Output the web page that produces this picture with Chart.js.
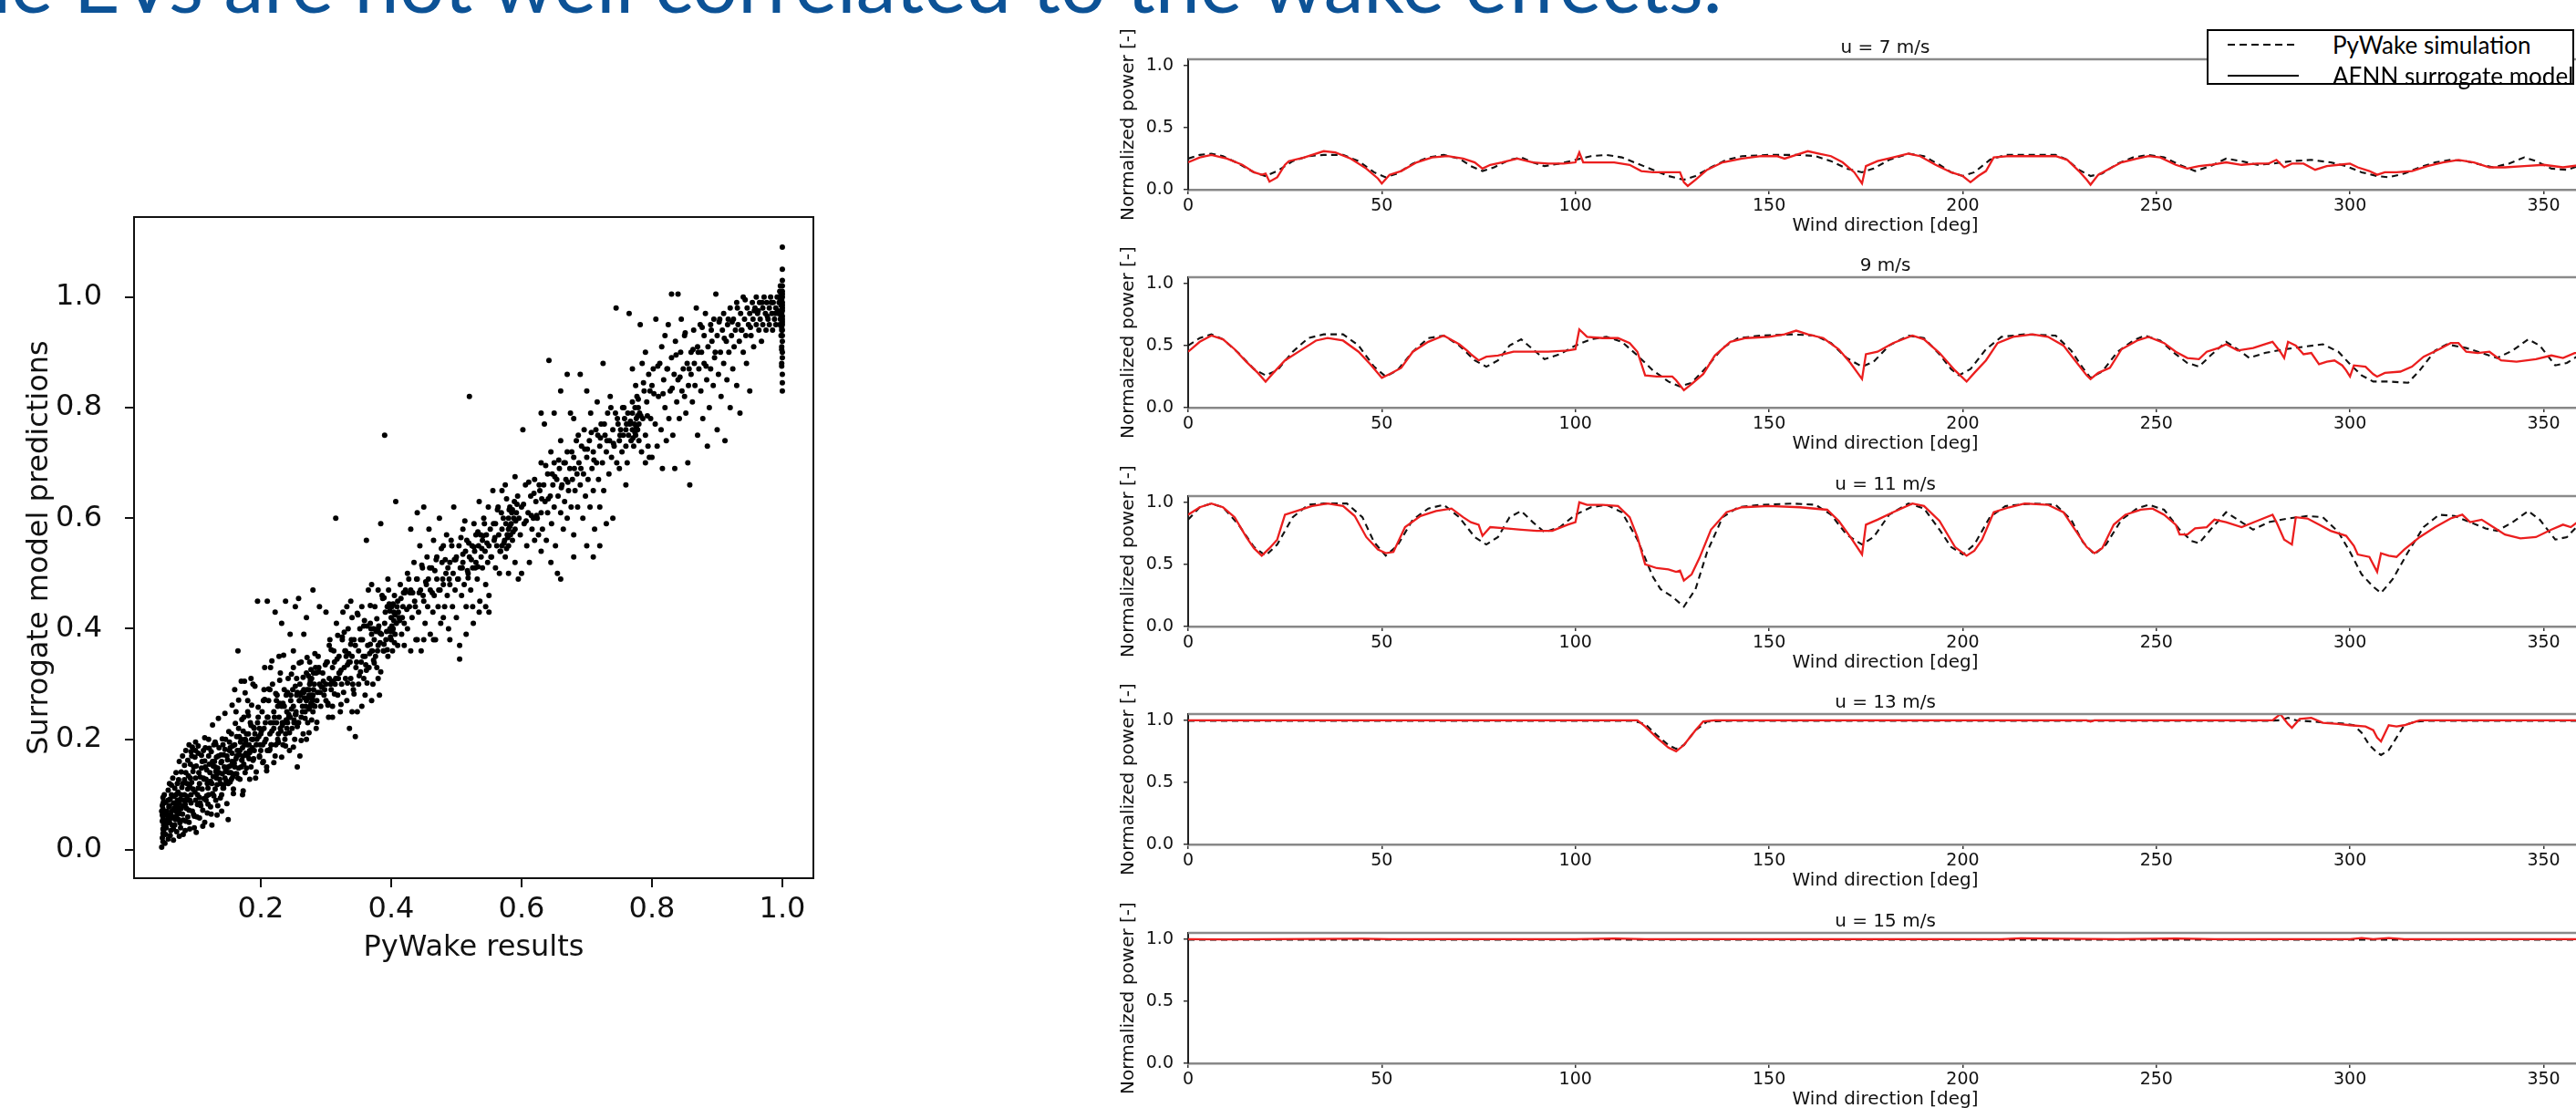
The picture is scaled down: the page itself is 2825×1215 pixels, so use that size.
<!DOCTYPE html>
<html>
<head>
<meta charset="utf-8">
<script src="https://cdn.jsdelivr.net/npm/chart.js@4.4.1/dist/chart.umd.min.js"></script>
<style>
  html, body { margin: 0; padding: 0; background: #fff; width: 2825px; height: 1215px; overflow: hidden; position: relative; }
  canvas { position: absolute; }
  #heading { position: absolute; left: -69px; top: -64px; font-family: Lato, sans-serif; font-size: 88px; line-height: 88px; color: #0c5296; white-space: nowrap; }
  #legend { position: absolute; left: 2420px; top: 32px; width: 403px; height: 61px; box-sizing: border-box; border: 2px solid #000; background: #fff; font-family: Lato, sans-serif; font-size: 26px; color: #000; }
  #legend .row { position: absolute; left: 0; height: 30px; line-height: 30px; }
  #legend svg { position: absolute; left: 21px; top: 0; }
  #legend span { position: absolute; left: 136px; top: 0; white-space: nowrap; }
</style>
</head>
<body>
<div id="heading">the EVs are not well correlated to the wake effects.</div>

<canvas id="scatter" width="960" height="900" style="left:0px;top:180px"></canvas>
<canvas id="u7" width="1700" height="250" style="left:1150px;top:15px"></canvas>
<canvas id="u9" width="1700" height="250" style="left:1150px;top:254px"></canvas>
<canvas id="u11" width="1700" height="250" style="left:1150px;top:494px"></canvas>
<canvas id="u13" width="1700" height="250" style="left:1150px;top:733px"></canvas>
<canvas id="u15" width="1700" height="250" style="left:1150px;top:973px"></canvas>

<div id="legend">
  <div class="row" style="top:0px">
    <svg width="80" height="30"><line x1="0" y1="15" x2="78" y2="15" stroke="#000" stroke-width="2" stroke-dasharray="8,5"/></svg>
    <span>PyWake simulation</span>
  </div>
  <div class="row" style="top:34px">
    <svg width="80" height="30"><line x1="0" y1="15" x2="78" y2="15" stroke="#000" stroke-width="2"/></svg>
    <span>AENN surrogate model</span>
  </div>
</div>

<script>
// left panel: PyWake result vs surrogate prediction, [pywake, surrogate]
const scatterPairs = [
  [0.048,0.005],[0.049,0.022],[0.05,0.03],[0.05,0.038],[0.051,0.045],[0.049,0.052],[0.05,0.06],[0.052,0.067],[0.05,0.074],[0.049,0.08],
  [0.051,0.088],[0.05,0.095],[0.052,0.1],[0.05,0.055],[0.048,0.07],[0.05,0.015],[0.051,0.035],[0.049,0.063],[0.05,0.084],[0.052,0.05],
  [0.055,0.04],[0.056,0.07],[0.058,0.09],[0.06,0.05],[0.06,0.08],[0.062,0.035],[0.063,0.1],[0.065,0.06],[0.066,0.085],[0.068,0.045],
  [0.07,0.07],[0.07,0.1],[0.072,0.12],[0.074,0.055],[0.075,0.085],[0.077,0.04],[0.078,0.1],[0.08,0.065],[0.08,0.12],[0.082,0.09],
  [0.084,0.035],[0.085,0.14],[0.086,0.075],[0.088,0.11],[0.09,0.05],[0.09,0.19],[0.091,0.09],[0.092,0.13],[0.094,0.17],[0.095,0.07],
  [0.096,0.11],[0.097,0.15],[0.098,0.04],[0.1,0.09],[0.1,0.13],[0.1,0.18],[0.1,0.195],[0.06,0.12],[0.065,0.13],[0.07,0.14],
  [0.075,0.16],[0.08,0.17],[0.085,0.18],[0.058,0.02],[0.075,0.025],[0.088,0.06],[0.057,0.055],[0.062,0.065],[0.067,0.075],[0.072,0.09],
  [0.078,0.075],[0.083,0.1],[0.087,0.12],[0.093,0.1],[0.064,0.045],[0.069,0.055],[0.074,0.07],[0.081,0.08],[0.086,0.09],[0.091,0.115],
  [0.053,0.012],[0.054,0.028],[0.056,0.048],[0.057,0.062],[0.059,0.078],[0.061,0.092],[0.063,0.058],[0.064,0.071],[0.066,0.038],[0.067,0.097],
  [0.069,0.083],[0.071,0.062],[0.073,0.078],[0.073,0.105],[0.076,0.066],[0.077,0.092],[0.079,0.113],[0.081,0.054],[0.083,0.127],[0.084,0.082],
  [0.087,0.097],[0.089,0.134],[0.09,0.072],[0.092,0.155],[0.093,0.085],[0.094,0.122],[0.096,0.142],[0.097,0.064],[0.099,0.105],[0.099,0.168],
  [0.054,0.086],[0.058,0.108],[0.061,0.026],[0.063,0.117],[0.066,0.018],[0.068,0.112],[0.071,0.033],[0.074,0.127],[0.076,0.049],[0.078,0.141],
  [0.081,0.028],[0.083,0.153],[0.085,0.052],[0.088,0.162],[0.091,0.038],[0.093,0.178],[0.095,0.186],[0.098,0.061],[0.101,0.032],[0.104,0.188],
  [0.102,0.06],[0.103,0.1],[0.105,0.14],[0.106,0.12],[0.108,0.08],[0.11,0.16],[0.11,0.11],[0.112,0.13],[0.114,0.05],[0.115,0.15],
  [0.116,0.09],[0.118,0.12],[0.12,0.17],[0.12,0.1],[0.122,0.14],[0.124,0.065],[0.125,0.12],[0.126,0.16],[0.128,0.19],[0.13,0.11],
  [0.13,0.15],[0.132,0.13],[0.134,0.08],[0.135,0.17],[0.136,0.14],[0.138,0.12],[0.14,0.16],[0.14,0.1],[0.142,0.19],[0.144,0.15],
  [0.145,0.13],[0.146,0.2],[0.148,0.17],[0.15,0.12],[0.15,0.15],[0.15,0.055],[0.152,0.18],[0.154,0.14],[0.155,0.21],[0.156,0.16],
  [0.158,0.11],[0.16,0.19],[0.16,0.15],[0.162,0.25],[0.163,0.17],[0.165,0.13],[0.165,0.36],[0.166,0.22],[0.168,0.18],[0.17,0.15],
  [0.17,0.2],[0.172,0.1],[0.173,0.17],[0.174,0.24],[0.175,0.19],[0.176,0.14],[0.178,0.21],[0.18,0.17],[0.18,0.27],[0.182,0.19],
  [0.184,0.23],[0.185,0.15],[0.186,0.2],[0.188,0.3],[0.19,0.18],[0.19,0.22],[0.192,0.13],[0.194,0.2],[0.195,0.45],[0.196,0.24],
  [0.198,0.17],[0.12,0.2],[0.13,0.195],[0.115,0.185],[0.14,0.07],[0.125,0.045],[0.17,0.305],[0.175,0.305],[0.16,0.29],[0.185,0.31],
  [0.18,0.25],[0.107,0.085],[0.113,0.128],[0.119,0.112],[0.127,0.152],[0.133,0.138],[0.139,0.172],[0.147,0.142],[0.153,0.185],[0.159,0.158],
  [0.167,0.205],[0.171,0.162],[0.177,0.198],[0.183,0.176],[0.189,0.222],[0.104,0.112],[0.117,0.098],[0.131,0.142],[0.143,0.118],[0.157,0.132],
  [0.101,0.152],[0.103,0.082],[0.104,0.175],[0.106,0.095],[0.107,0.132],[0.109,0.148],[0.111,0.072],[0.112,0.18],[0.113,0.093],[0.114,0.161],
  [0.116,0.128],[0.117,0.145],[0.119,0.083],[0.121,0.155],[0.123,0.124],[0.124,0.178],[0.126,0.102],[0.127,0.133],[0.129,0.16],[0.131,0.09],
  [0.132,0.168],[0.133,0.118],[0.134,0.148],[0.136,0.185],[0.137,0.128],[0.139,0.158],[0.141,0.138],[0.142,0.112],[0.143,0.172],[0.145,0.182],
  [0.146,0.143],[0.147,0.125],[0.149,0.163],[0.151,0.14],[0.152,0.195],[0.153,0.152],[0.155,0.128],[0.156,0.175],[0.157,0.188],[0.159,0.156],
  [0.161,0.138],[0.162,0.165],[0.163,0.205],[0.164,0.18],[0.166,0.148],[0.167,0.172],[0.169,0.195],[0.171,0.163],[0.172,0.185],[0.173,0.215],
  [0.174,0.155],[0.176,0.2],[0.177,0.175],[0.179,0.19],[0.181,0.21],[0.182,0.165],[0.183,0.18],[0.185,0.225],[0.187,0.185],[0.188,0.2],
  [0.189,0.165],[0.191,0.21],[0.193,0.19],[0.195,0.23],[0.197,0.205],[0.198,0.22],[0.199,0.19],
  [0.106,0.058],[0.109,0.171],[0.111,0.043],[0.114,0.203],[0.118,0.067],[0.121,0.184],[0.123,0.078],[0.126,0.226],[0.128,0.098],[0.131,0.191],
  [0.133,0.063],[0.135,0.238],[0.138,0.094],[0.141,0.201],[0.143,0.112],[0.145,0.247],[0.148,0.084],[0.151,0.214],[0.153,0.123],[0.156,0.262],
  [0.158,0.102],[0.161,0.229],[0.163,0.138],[0.166,0.271],[0.168,0.128],[0.171,0.236],[0.173,0.107],[0.176,0.284],[0.178,0.148],[0.181,0.243],
  [0.183,0.128],[0.186,0.262],[0.188,0.162],[0.191,0.296],[0.193,0.141],[0.196,0.258],[0.198,0.168],
  [0.2,0.21],[0.2,0.18],[0.202,0.25],[0.204,0.16],[0.205,0.22],[0.206,0.33],[0.208,0.2],[0.21,0.24],[0.21,0.18],[0.212,0.27],
  [0.214,0.21],[0.215,0.23],[0.216,0.19],[0.218,0.3],[0.22,0.22],[0.22,0.25],[0.222,0.17],[0.224,0.23],[0.225,0.28],[0.226,0.2],
  [0.228,0.24],[0.23,0.22],[0.23,0.32],[0.232,0.26],[0.234,0.19],[0.235,0.23],[0.236,0.29],[0.238,0.21],[0.24,0.25],[0.24,0.22],
  [0.242,0.31],[0.244,0.18],[0.245,0.24],[0.246,0.27],[0.248,0.22],[0.25,0.26],[0.25,0.33],[0.252,0.2],[0.254,0.25],[0.255,0.28],
  [0.256,0.15],[0.258,0.23],[0.26,0.27],[0.26,0.3],[0.262,0.24],[0.264,0.26],[0.265,0.21],[0.266,0.29],[0.268,0.25],[0.27,0.27],
  [0.27,0.32],[0.272,0.23],[0.274,0.28],[0.275,0.3],[0.276,0.26],[0.278,0.31],[0.28,0.28],[0.28,0.25],[0.282,0.3],[0.284,0.33],
  [0.286,0.27],[0.288,0.35],[0.29,0.3],[0.292,0.26],[0.295,0.32],[0.298,0.29],[0.21,0.45],[0.222,0.43],[0.232,0.41],[0.238,0.45],
  [0.258,0.455],[0.266,0.39],[0.253,0.44],[0.28,0.47],[0.27,0.42],[0.245,0.39],[0.215,0.33],[0.228,0.35],[0.25,0.36],[0.262,0.34],
  [0.3,0.43],[0.29,0.44],[0.205,0.29],[0.26,0.17],[0.27,0.2],[0.285,0.22],[0.255,0.31],[0.275,0.34],[0.274,0.255],[0.277,0.265],
  [0.279,0.275],[0.281,0.29],[0.276,0.305],[0.273,0.315],[0.278,0.235],[0.227,0.21],[0.233,0.225],[0.239,0.235],[0.243,0.245],[0.251,0.235],
  [0.201,0.215],[0.203,0.19],[0.204,0.27],[0.206,0.195],[0.207,0.23],[0.209,0.15],[0.211,0.24],[0.213,0.18],[0.214,0.29],[0.216,0.19],
  [0.217,0.215],[0.219,0.23],[0.221,0.24],[0.223,0.19],[0.224,0.27],[0.226,0.26],[0.227,0.195],[0.229,0.265],[0.231,0.215],[0.233,0.23],
  [0.234,0.265],[0.236,0.26],[0.237,0.2],[0.239,0.28],[0.241,0.23],[0.243,0.24],[0.244,0.24],[0.246,0.28],[0.247,0.255],[0.249,0.29],
  [0.251,0.23],[0.253,0.245],[0.254,0.245],[0.256,0.285],[0.257,0.23],[0.259,0.27],[0.261,0.28],[0.263,0.285],[0.264,0.25],[0.266,0.285],
  [0.267,0.275],[0.269,0.26],[0.271,0.29],[0.273,0.275],[0.274,0.29],[0.276,0.31],[0.277,0.28],[0.279,0.27],[0.281,0.32],[0.283,0.26],
  [0.285,0.32],[0.287,0.285],[0.289,0.33],[0.291,0.285],[0.293,0.295],[0.294,0.295],[0.296,0.305],[0.297,0.28],[0.299,0.335],
  [0.203,0.158],[0.206,0.272],[0.209,0.143],[0.212,0.291],[0.214,0.182],[0.217,0.342],[0.22,0.158],[0.223,0.283],[0.226,0.194],[0.229,0.307],
  [0.232,0.168],[0.235,0.352],[0.238,0.188],[0.241,0.285],[0.244,0.212],[0.247,0.318],[0.25,0.186],[0.253,0.296],[0.256,0.223],[0.259,0.338],
  [0.262,0.198],[0.265,0.312],[0.268,0.238],[0.271,0.348],[0.274,0.212],[0.277,0.326],[0.28,0.262],[0.283,0.355],[0.286,0.231],[0.289,0.322],
  [0.3,0.3],[0.3,0.27],[0.302,0.34],[0.304,0.24],[0.305,0.31],[0.306,0.38],[0.308,0.29],[0.31,0.33],[0.31,0.26],[0.312,0.36],
  [0.314,0.3],[0.315,0.6],[0.316,0.41],[0.318,0.28],[0.32,0.32],[0.32,0.35],[0.322,0.25],[0.324,0.3],[0.325,0.38],[0.326,0.43],
  [0.328,0.33],[0.33,0.31],[0.33,0.36],[0.332,0.27],[0.334,0.4],[0.335,0.34],[0.336,0.22],[0.338,0.31],[0.34,0.35],[0.34,0.42],
  [0.342,0.29],[0.345,0.205],[0.345,0.37],[0.346,0.33],[0.348,0.25],[0.35,0.36],[0.35,0.3],[0.352,0.4],[0.354,0.34],[0.355,0.44],
  [0.356,0.38],[0.358,0.31],[0.36,0.35],[0.36,0.28],[0.362,0.56],[0.364,0.37],[0.365,0.47],[0.366,0.33],[0.368,0.41],[0.37,0.36],
  [0.37,0.39],[0.372,0.3],[0.374,0.38],[0.375,0.44],[0.376,0.35],[0.378,0.33],[0.38,0.4],[0.38,0.37],[0.382,0.28],[0.384,0.59],
  [0.385,0.39],[0.386,0.46],[0.388,0.36],[0.39,0.41],[0.39,0.75],[0.392,0.38],[0.394,0.44],[0.395,0.35],[0.396,0.47],[0.398,0.4],
  [0.4,0.42],[0.4,0.38],[0.401,0.44],[0.402,0.36],[0.403,0.4],[0.404,0.43],[0.405,0.46],[0.406,0.39],[0.407,0.63],[0.408,0.41],
  [0.41,0.37],[0.41,0.45],[0.412,0.42],[0.414,0.48],[0.416,0.39],[0.418,0.44],[0.42,0.41],[0.42,0.37],[0.332,0.44],[0.338,0.45],
  [0.37,0.48],[0.38,0.47],[0.395,0.49],[0.34,0.25],[0.355,0.26],[0.37,0.27],[0.38,0.31],[0.31,0.24],[0.402,0.395],[0.404,0.415],
  [0.405,0.375],[0.403,0.445],[0.406,0.425],[0.399,0.385],[0.401,0.405],[0.362,0.325],[0.368,0.372],[0.374,0.338],[0.383,0.392],[0.389,0.372],
  [0.301,0.34],[0.303,0.265],[0.305,0.37],[0.307,0.3],[0.309,0.305],[0.311,0.305],[0.313,0.34],[0.315,0.31],[0.317,0.345],[0.319,0.31],
  [0.321,0.32],[0.323,0.325],[0.325,0.385],[0.327,0.285],[0.329,0.36],[0.331,0.35],[0.333,0.335],[0.335,0.355],[0.337,0.34],[0.339,0.38],
  [0.341,0.3],[0.343,0.38],[0.347,0.34],[0.349,0.425],[0.351,0.315],[0.353,0.38],[0.357,0.35],[0.359,0.415],[0.361,0.335],[0.363,0.405],
  [0.367,0.355],[0.369,0.4],[0.371,0.36],[0.373,0.4],[0.377,0.395],[0.379,0.36],[0.381,0.405],[0.383,0.375],[0.387,0.455],[0.389,0.36],
  [0.391,0.43],[0.393,0.395],[0.397,0.445],[0.399,0.395],[0.409,0.44],[0.411,0.43],[0.413,0.415],[0.415,0.455],[0.417,0.42],[0.419,0.465],
  [0.303,0.262],[0.308,0.362],[0.313,0.282],[0.318,0.388],[0.323,0.263],[0.328,0.394],[0.333,0.302],[0.338,0.372],[0.343,0.282],[0.348,0.428],
  [0.353,0.322],[0.358,0.405],[0.363,0.302],[0.368,0.442],[0.373,0.343],[0.378,0.418],[0.384,0.322],[0.389,0.456],[0.394,0.362],[0.398,0.432],
  [0.422,0.47],[0.425,0.5],[0.425,0.4],[0.428,0.44],[0.43,0.58],[0.43,0.47],[0.432,0.42],[0.435,0.52],[0.436,0.45],[0.438,0.38],
  [0.44,0.49],[0.44,0.61],[0.442,0.43],[0.444,0.55],[0.445,0.47],[0.446,0.36],[0.448,0.51],[0.45,0.45],[0.45,0.62],[0.452,0.41],
  [0.454,0.48],[0.455,0.53],[0.456,0.44],[0.458,0.58],[0.46,0.47],[0.46,0.39],[0.462,0.51],[0.464,0.43],[0.465,0.56],[0.466,0.46],
  [0.468,0.38],[0.47,0.49],[0.47,0.53],[0.472,0.44],[0.474,0.6],[0.475,0.47],[0.476,0.41],[0.478,0.52],[0.48,0.48],[0.48,0.55],
  [0.482,0.44],[0.484,0.5],[0.485,0.57],[0.486,0.46],[0.488,0.4],[0.49,0.52],[0.49,0.48],[0.492,0.56],[0.494,0.44],[0.495,0.5],
  [0.496,0.62],[0.498,0.47],[0.5,0.53],[0.5,0.42],[0.502,0.49],[0.504,0.55],[0.505,0.345],[0.506,0.51],[0.508,0.46],[0.51,0.52],
  [0.51,0.58],[0.512,0.48],[0.514,0.54],[0.515,0.44],[0.516,0.56],[0.518,0.5],[0.52,0.53],[0.52,0.82],[0.522,0.47],[0.524,0.55],
  [0.525,0.51],[0.526,0.41],[0.528,0.54],[0.53,0.52],[0.53,0.57],[0.532,0.49],[0.534,0.55],[0.535,0.63],[0.536,0.45],[0.538,0.53],
  [0.54,0.56],[0.54,0.51],[0.542,0.6],[0.544,0.54],[0.545,0.48],[0.546,0.57],[0.548,0.52],[0.55,0.55],[0.55,0.43],[0.552,0.58],
  [0.554,0.53],[0.556,0.65],[0.558,0.56],[0.43,0.36],[0.44,0.38],[0.45,0.38],[0.465,0.38],[0.49,0.38],[0.48,0.42],[0.505,0.37],
  [0.515,0.39],[0.525,0.44],[0.535,0.43],[0.545,0.44],[0.55,0.46],[0.51,0.535],[0.518,0.492],[0.527,0.548],[0.533,0.512],[0.541,0.568],
  [0.421,0.465],[0.424,0.435],[0.427,0.49],[0.429,0.465],[0.433,0.465],[0.437,0.44],[0.439,0.49],[0.443,0.465],[0.447,0.515],[0.449,0.46],
  [0.453,0.485],[0.457,0.49],[0.459,0.51],[0.463,0.465],[0.467,0.505],[0.469,0.525],[0.473,0.47],[0.477,0.545],[0.479,0.49],[0.483,0.525],
  [0.487,0.51],[0.489,0.49],[0.493,0.55],[0.497,0.525],[0.499,0.525],[0.503,0.49],[0.507,0.565],[0.509,0.51],[0.513,0.595],[0.517,0.505],
  [0.519,0.555],[0.523,0.525],[0.527,0.59],[0.529,0.51],[0.533,0.575],[0.537,0.57],[0.539,0.545],[0.543,0.59],[0.547,0.555],[0.549,0.62],
  [0.553,0.53],[0.557,0.59],[0.559,0.565],[0.563,0.615],[0.567,0.54],[0.569,0.61],[0.573,0.555],[0.577,0.635],[0.579,0.57],[0.581,0.615],
  [0.56,0.51],[0.56,0.59],[0.562,0.55],[0.564,0.62],[0.565,0.57],[0.566,0.5],[0.568,0.54],[0.57,0.58],[0.57,0.55],[0.572,0.6],
  [0.574,0.56],[0.575,0.53],[0.576,0.59],[0.578,0.57],[0.58,0.58],[0.58,0.6],[0.58,0.55],[0.582,0.62],[0.583,0.57],[0.584,0.59],
  [0.585,0.61],[0.586,0.56],[0.588,0.6],[0.589,0.63],[0.59,0.58],[0.59,0.52],[0.592,0.61],[0.594,0.64],[0.595,0.49],[0.596,0.6],
  [0.598,0.57],[0.6,0.62],[0.6,0.5],[0.602,0.76],[0.604,0.59],[0.606,0.66],[0.608,0.55],[0.61,0.61],[0.612,0.52],[0.614,0.64],
  [0.616,0.58],[0.618,0.6],[0.62,0.56],[0.62,0.67],[0.59,0.675],[0.57,0.65],[0.575,0.66],[0.58,0.5],[0.587,0.575],[0.591,0.595],
  [0.593,0.625],[0.586,0.615],[0.582,0.585],[0.579,0.565],[0.577,0.545],
  [0.603,0.625],[0.607,0.595],[0.611,0.665],[0.615,0.605],[0.619,0.645],[0.623,0.605],[0.627,0.66],[0.631,0.635],[0.637,0.695],[0.641,0.635],
  [0.647,0.68],[0.651,0.675],[0.657,0.705],[0.661,0.655],[0.667,0.7],[0.671,0.665],[0.677,0.72],[0.681,0.69],[0.687,0.75],[0.691,0.69],
  [0.697,0.725],[0.701,0.725],[0.707,0.755],[0.711,0.705],[0.717,0.75],[0.721,0.745],[0.727,0.77],[0.731,0.74],[0.737,0.8],[0.741,0.735],
  [0.622,0.63],[0.624,0.6],[0.626,0.57],[0.628,0.65],[0.63,0.61],[0.63,0.7],[0.632,0.58],[0.634,0.66],[0.635,0.77],[0.636,0.63],
  [0.638,0.56],[0.64,0.68],[0.64,0.61],[0.642,0.885],[0.644,0.64],[0.645,0.72],[0.646,0.59],[0.648,0.66],[0.65,0.62],[0.65,0.7],
  [0.652,0.55],[0.654,0.67],[0.655,0.5],[0.656,0.64],[0.658,0.69],[0.66,0.61],[0.66,0.74],[0.662,0.66],[0.664,0.58],[0.665,0.7],
  [0.666,0.63],[0.668,0.67],[0.67,0.72],[0.67,0.6],[0.672,0.65],[0.674,0.69],[0.675,0.79],[0.676,0.62],[0.678,0.67],[0.68,0.71],
  [0.68,0.57],[0.682,0.65],[0.684,0.74],[0.685,0.68],[0.686,0.62],[0.688,0.7],[0.69,0.66],[0.69,0.86],[0.692,0.73],[0.694,0.6],
  [0.695,0.68],[0.696,0.76],[0.698,0.64],[0.7,0.71],[0.7,0.55],[0.702,0.67],[0.704,0.74],[0.705,0.62],[0.706,0.79],[0.708,0.69],
  [0.71,0.72],[0.71,0.65],[0.712,0.58],[0.714,0.76],[0.715,0.7],[0.716,0.81],[0.718,0.67],[0.72,0.73],[0.72,0.62],[0.722,0.77],
  [0.724,0.7],[0.725,0.88],[0.726,0.65],[0.728,0.75],[0.73,0.72],[0.73,0.59],[0.732,0.79],[0.734,0.68],[0.735,0.74],[0.736,0.82],
  [0.738,0.71],[0.74,0.76],[0.74,0.6],[0.742,0.73],[0.744,0.79],[0.745,0.98],[0.746,0.7],[0.748,0.77],[0.66,0.83],[0.67,0.86],
  [0.68,0.78],[0.7,0.83],[0.65,0.79],[0.63,0.79],[0.63,0.54],[0.645,0.52],[0.66,0.49],[0.68,0.53],[0.72,0.55],[0.71,0.53],
  [0.75,0.74],[0.75,0.69],[0.752,0.76],[0.754,0.72],[0.755,0.8],[0.756,0.75],[0.758,0.78],[0.76,0.73],[0.76,0.76],[0.762,0.7],
  [0.763,0.79],[0.764,0.75],[0.765,0.97],[0.766,0.77],[0.768,0.74],[0.77,0.76],[0.77,0.79],[0.772,0.73],[0.773,0.77],[0.774,0.8],
  [0.775,0.75],[0.776,0.78],[0.777,0.82],[0.778,0.76],[0.779,0.8],[0.78,0.74],[0.78,0.77],[0.781,0.79],[0.782,0.95],[0.784,0.72],
  [0.786,0.78],[0.788,0.83],[0.79,0.75],[0.79,0.7],[0.792,0.81],[0.794,0.73],[0.795,0.86],[0.796,0.71],[0.798,0.78],[0.8,0.71],
  [0.8,0.84],[0.77,0.87],[0.775,0.84],[0.76,0.66],[0.79,0.9],[0.785,0.88],[0.77,0.81],[0.776,0.765],[0.778,0.785],[0.774,0.755],
  [0.747,0.78],[0.751,0.75],[0.757,0.8],[0.761,0.77],[0.767,0.775],[0.771,0.745],[0.779,0.815],[0.783,0.785],[0.787,0.845],[0.793,0.785],
  [0.797,0.83],[0.803,0.825],[0.809,0.875],[0.817,0.825],[0.823,0.87],[0.831,0.835],[0.837,0.895],[0.843,0.855],[0.851,0.935],[0.857,0.87],
  [0.863,0.905],[0.871,0.9],[0.877,0.945],[0.883,0.875],[0.891,0.94],[0.897,0.9],[0.903,0.955],[0.911,0.925],[0.917,0.96],[0.923,0.955],
  [0.931,0.98],[0.937,0.94],[0.943,0.995],[0.951,0.945],[0.957,0.975],[0.963,0.975],[0.969,0.99],[0.977,0.965],[0.983,0.99],[0.989,0.97],
  [0.802,0.87],[0.805,0.77],[0.806,0.96],[0.808,0.73],[0.81,0.82],[0.812,0.88],[0.814,0.76],[0.815,0.91],[0.816,0.69],[0.818,0.85],
  [0.82,0.8],[0.82,0.93],[0.822,0.74],[0.824,0.87],[0.825,0.95],[0.826,0.78],[0.828,0.83],[0.83,1.005],[0.83,0.89],[0.832,0.75],
  [0.834,0.86],[0.835,0.69],[0.836,0.92],[0.838,0.81],[0.84,1.005],[0.84,0.85],[0.842,0.78],[0.844,0.9],[0.845,0.96],[0.846,0.83],
  [0.848,0.87],[0.85,0.82],[0.85,0.93],[0.852,0.79],[0.854,0.88],[0.855,0.7],[0.856,0.84],[0.858,0.66],[0.86,0.9],[0.86,0.86],
  [0.862,0.81],[0.864,0.94],[0.865,0.88],[0.866,0.84],[0.868,0.98],[0.87,0.91],[0.87,0.75],[0.872,0.87],[0.874,0.95],[0.875,0.83],
  [0.876,0.9],[0.878,0.78],[0.88,0.93],[0.88,0.88],[0.882,0.97],[0.884,0.85],[0.885,0.73],[0.886,0.91],[0.888,0.8],[0.89,0.95],
  [0.89,0.87],[0.892,0.92],[0.894,0.84],[0.895,0.96],[0.896,0.89],[0.898,1.005],[0.9,0.93],[0.9,0.76],[0.902,0.86],[0.904,0.96],
  [0.905,0.9],[0.906,0.82],[0.908,0.94],[0.91,0.88],[0.91,0.97],[0.912,0.74],[0.914,0.92],[0.915,0.85],[0.916,0.95],[0.918,0.9],
  [0.92,0.98],[0.92,0.8],[0.922,0.93],[0.924,0.87],[0.925,0.96],[0.926,0.91],[0.928,0.94],[0.93,0.99],[0.93,0.84],[0.932,0.95],
  [0.934,0.92],[0.935,0.79],[0.936,0.97],[0.938,0.94],[0.94,1.0],[0.94,0.9],[0.942,0.96],[0.944,0.93],[0.945,0.88],[0.946,0.98],
  [0.948,0.95],[0.95,0.97],[0.95,0.83],[0.952,0.93],[0.954,0.99],[0.955,0.96],[0.956,0.91],[0.958,0.98],[0.96,0.95],[0.96,1.0],
  [0.962,0.97],[0.964,0.94],[0.965,0.99],[0.966,0.96],[0.968,0.92],[0.97,0.98],[0.97,0.95],[0.972,1.0],[0.974,0.97],[0.975,0.94],
  [0.976,0.99],[0.978,0.96],[0.98,0.98],[0.98,0.95],[0.982,1.0],[0.984,0.97],[0.985,0.94],[0.986,0.99],[0.988,0.96],[0.99,0.98],
  [0.99,0.95],[0.992,1.0],[0.994,0.97],[0.995,0.99],[0.996,0.95],[0.993,0.975],[0.997,0.99],[0.998,0.965],[0.999,0.94],[0.999,0.905],
  [0.999,0.88],[0.998,1.005],[0.997,0.995],
  [1.0,0.83],[1.0,0.845],[1.0,0.86],[0.999,0.875],[1.0,0.89],[1.0,0.9],[0.999,0.91],[1.0,0.92],[1.0,0.93],[1.0,0.94],
  [0.999,0.945],[1.0,0.95],[1.0,0.955],[1.0,0.96],[1.0,0.965],[0.999,0.97],[1.0,0.975],[1.0,0.98],[1.0,0.985],[1.0,0.99],
  [0.999,0.995],[1.0,1.0],[1.0,1.005],[1.0,1.01],[1.0,1.02],[1.0,1.03],[1.0,1.05],[1.0,1.09],[0.998,0.985],[0.998,1.0],
  [0.997,0.96],[0.998,0.93],[0.996,1.01],[0.997,1.02]
];
const pywakeTicks = [0.2, 0.4, 0.6, 0.8, 1.0];
const surrogateTicks = [0.0, 0.2, 0.4, 0.6, 0.8, 1.0];

// right panels: [wind direction deg, normalized power]
const dirTicks = [0, 50, 100, 150, 200, 250, 300, 350];
const powerTicks = [0.0, 0.5, 1.0];
const speedTitles = ['u = 7 m/s', '9 m/s', 'u = 11 m/s', 'u = 13 m/s', 'u = 15 m/s'];

const pywake7 = [[0,0.25],[3,0.28],[6,0.29],[9,0.27],[13,0.21],[17,0.14],[20,0.11],[23,0.15],[27,0.23],[31,0.27],[35,0.28],[40,0.28],[44,0.23],[48,0.14],[51,0.1],[54,0.13],[58,0.21],[62,0.26],[66,0.28],[70,0.25],[73,0.19],[76,0.15],[79,0.18],[83,0.24],[86,0.26],[89,0.22],[92,0.19],[96,0.21],[100,0.24],[104,0.27],[108,0.28],[112,0.26],[116,0.21],[120,0.16],[124,0.11],[128,0.08],[131,0.11],[135,0.18],[139,0.24],[143,0.27],[150,0.28],[158,0.28],[162,0.27],[166,0.23],[170,0.17],[174,0.14],[177,0.17],[181,0.24],[186,0.29],[190,0.27],[194,0.2],[197,0.14],[200,0.11],[203,0.14],[207,0.24],[211,0.28],[218,0.28],[224,0.28],[227,0.24],[230,0.16],[233,0.11],[236,0.13],[240,0.21],[244,0.26],[248,0.28],[252,0.26],[256,0.2],[260,0.15],[264,0.19],[268,0.25],[272,0.23],[276,0.2],[280,0.21],[285,0.23],[290,0.24],[295,0.22],[299,0.19],[303,0.14],[307,0.11],[310,0.1],[314,0.13],[318,0.18],[322,0.22],[326,0.24],[330,0.23],[334,0.2],[337,0.18],[341,0.21],[345,0.26],[348,0.23],[352,0.17],[356,0.16],[360,0.2]];
const aenn7 = [[0,0.22],[3,0.26],[6,0.28],[10,0.25],[14,0.2],[17,0.14],[19,0.12],[20,0.13],[21,0.065],[23,0.1],[25,0.2],[26,0.23],[30,0.26],[35,0.31],[38,0.3],[42,0.25],[46,0.17],[49,0.09],[50,0.05],[52,0.12],[55,0.15],[59,0.22],[63,0.26],[67,0.27],[71,0.25],[74,0.22],[76,0.17],[78,0.2],[81,0.22],[85,0.25],[89,0.22],[93,0.21],[97,0.21],[100,0.22],[101,0.3],[102,0.22],[106,0.22],[110,0.22],[114,0.2],[117,0.15],[120,0.14],[125,0.14],[127,0.14],[128,0.06],[129,0.03],[131,0.08],[134,0.16],[138,0.22],[143,0.25],[148,0.27],[152,0.27],[154,0.25],[157,0.28],[160,0.31],[163,0.29],[166,0.27],[169,0.22],[172,0.14],[174,0.05],[175,0.19],[178,0.23],[182,0.26],[186,0.29],[189,0.27],[193,0.2],[197,0.14],[200,0.11],[202,0.06],[204,0.11],[206,0.15],[208,0.26],[212,0.27],[218,0.27],[224,0.27],[227,0.24],[230,0.15],[232,0.08],[233,0.04],[235,0.12],[238,0.17],[241,0.22],[245,0.25],[248,0.27],[251,0.26],[255,0.2],[258,0.17],[261,0.19],[264,0.2],[268,0.22],[272,0.2],[276,0.21],[279,0.21],[281,0.24],[283,0.18],[285,0.21],[288,0.21],[291,0.16],[294,0.19],[297,0.2],[300,0.21],[302,0.18],[305,0.15],[307,0.12],[309,0.14],[312,0.14],[316,0.15],[320,0.19],[324,0.22],[328,0.24],[332,0.22],[336,0.18],[340,0.18],[345,0.19],[350,0.2],[355,0.18],[360,0.2]];

const pywake9 = [[0,0.5],[3,0.56],[6,0.59],[9,0.55],[13,0.44],[17,0.31],[20,0.26],[23,0.3],[27,0.45],[31,0.56],[35,0.59],[40,0.59],[44,0.5],[48,0.33],[51,0.25],[54,0.3],[58,0.45],[62,0.56],[66,0.58],[70,0.5],[74,0.38],[77,0.33],[80,0.38],[83,0.5],[86,0.55],[89,0.47],[92,0.39],[96,0.43],[100,0.5],[104,0.55],[108,0.57],[112,0.53],[116,0.42],[120,0.3],[124,0.21],[127,0.17],[130,0.2],[134,0.33],[138,0.48],[142,0.56],[148,0.58],[156,0.59],[162,0.58],[166,0.52],[170,0.4],[174,0.33],[177,0.37],[181,0.5],[186,0.58],[190,0.56],[194,0.43],[197,0.31],[199,0.26],[202,0.31],[206,0.47],[210,0.57],[216,0.59],[224,0.58],[228,0.46],[231,0.32],[233,0.24],[236,0.29],[240,0.45],[244,0.54],[247,0.58],[251,0.54],[255,0.43],[258,0.36],[261,0.33],[264,0.42],[268,0.53],[271,0.47],[274,0.4],[278,0.44],[283,0.47],[288,0.49],[293,0.51],[297,0.45],[300,0.35],[303,0.26],[306,0.21],[310,0.21],[315,0.2],[318,0.3],[322,0.46],[325,0.51],[330,0.48],[334,0.44],[338,0.4],[342,0.46],[346,0.55],[349,0.5],[353,0.34],[356,0.36],[360,0.44]];
const aenn9 = [[0,0.45],[3,0.53],[6,0.58],[9,0.55],[12,0.47],[15,0.37],[18,0.28],[20,0.21],[22,0.28],[25,0.38],[29,0.46],[33,0.54],[36,0.56],[40,0.54],[44,0.45],[47,0.35],[50,0.24],[52,0.27],[55,0.32],[58,0.45],[62,0.53],[66,0.58],[70,0.51],[72,0.46],[73,0.43],[75,0.38],[77,0.41],[80,0.42],[84,0.45],[88,0.45],[93,0.45],[98,0.46],[100,0.47],[101,0.63],[103,0.57],[107,0.56],[111,0.56],[114,0.52],[116,0.45],[118,0.26],[121,0.25],[125,0.25],[126,0.22],[127,0.18],[128,0.14],[130,0.19],[133,0.27],[136,0.42],[140,0.53],[144,0.56],[150,0.57],[154,0.59],[157,0.62],[160,0.59],[164,0.56],[168,0.47],[171,0.36],[174,0.23],[175,0.43],[178,0.45],[182,0.52],[187,0.58],[190,0.55],[194,0.44],[198,0.3],[201,0.21],[203,0.28],[206,0.38],[209,0.52],[213,0.57],[218,0.59],[222,0.57],[226,0.5],[229,0.38],[232,0.26],[233,0.23],[235,0.28],[238,0.32],[241,0.47],[245,0.54],[248,0.57],[252,0.52],[255,0.45],[258,0.4],[261,0.39],[263,0.45],[266,0.48],[268,0.51],[271,0.46],[275,0.48],[279,0.52],[280,0.53],[282,0.45],[283,0.4],[284,0.53],[286,0.5],[288,0.43],[290,0.44],[292,0.35],[294,0.37],[296,0.38],[298,0.34],[299,0.3],[300,0.25],[301,0.34],[304,0.33],[306,0.27],[307,0.25],[309,0.28],[313,0.29],[316,0.33],[319,0.41],[323,0.47],[326,0.52],[328,0.52],[330,0.45],[333,0.44],[336,0.45],[339,0.38],[343,0.37],[348,0.39],[352,0.42],[355,0.4],[358,0.44],[360,0.44]];

const pywake11 = [[0,0.86],[3,0.96],[6,0.99],[9,0.96],[13,0.82],[17,0.64],[20,0.57],[23,0.66],[27,0.88],[31,0.98],[35,0.99],[41,0.99],[45,0.88],[48,0.68],[51,0.57],[54,0.65],[58,0.86],[62,0.95],[66,0.98],[70,0.88],[74,0.72],[77,0.66],[80,0.72],[83,0.88],[86,0.93],[89,0.84],[92,0.76],[96,0.8],[100,0.9],[104,0.96],[108,0.98],[112,0.92],[116,0.7],[120,0.4],[122,0.3],[125,0.24],[128,0.16],[131,0.3],[134,0.6],[138,0.88],[142,0.96],[148,0.98],[156,0.99],[162,0.98],[166,0.9],[170,0.74],[174,0.66],[177,0.72],[181,0.9],[186,0.99],[190,0.95],[194,0.78],[197,0.64],[200,0.58],[203,0.66],[207,0.88],[211,0.97],[218,0.99],[224,0.98],[228,0.86],[231,0.68],[234,0.58],[237,0.66],[241,0.86],[245,0.95],[248,0.98],[252,0.94],[256,0.78],[259,0.69],[261,0.67],[264,0.78],[268,0.92],[271,0.86],[275,0.78],[279,0.84],[284,0.87],[289,0.89],[293,0.88],[297,0.76],[300,0.6],[303,0.42],[306,0.32],[308,0.27],[311,0.38],[315,0.6],[319,0.8],[323,0.9],[327,0.89],[331,0.84],[335,0.79],[338,0.77],[342,0.84],[346,0.93],[349,0.86],[353,0.7],[356,0.72],[360,0.85]];
const aenn11 = [[0,0.9],[3,0.96],[6,0.99],[9,0.96],[12,0.88],[15,0.72],[17,0.63],[19,0.57],[21,0.63],[23,0.7],[25,0.9],[28,0.93],[32,0.97],[36,0.99],[40,0.97],[43,0.89],[46,0.72],[49,0.62],[51,0.59],[53,0.6],[56,0.8],[60,0.89],[64,0.93],[68,0.95],[71,0.88],[73,0.84],[75,0.82],[76,0.73],[78,0.8],[82,0.79],[86,0.78],[90,0.77],[94,0.77],[98,0.82],[100,0.84],[101,1.0],[103,0.98],[107,0.98],[111,0.97],[114,0.88],[116,0.72],[118,0.5],[121,0.47],[124,0.46],[126,0.44],[127,0.45],[128,0.37],[130,0.42],[132,0.55],[135,0.78],[139,0.92],[143,0.96],[150,0.97],[158,0.96],[165,0.94],[168,0.85],[171,0.72],[174,0.58],[175,0.82],[178,0.86],[182,0.92],[187,0.99],[190,0.97],[194,0.85],[198,0.64],[201,0.57],[203,0.61],[205,0.7],[208,0.92],[212,0.96],[216,0.99],[222,0.98],[226,0.92],[229,0.78],[232,0.64],[234,0.59],[236,0.63],[239,0.82],[242,0.9],[246,0.94],[249,0.95],[252,0.9],[255,0.82],[256,0.74],[258,0.74],[260,0.79],[263,0.8],[265,0.86],[268,0.84],[272,0.8],[276,0.85],[280,0.9],[281,0.84],[283,0.7],[285,0.66],[286,0.88],[289,0.87],[292,0.82],[295,0.77],[299,0.73],[301,0.65],[302,0.58],[305,0.56],[307,0.44],[308,0.59],[310,0.57],[312,0.56],[314,0.62],[318,0.72],[322,0.8],[326,0.87],[329,0.9],[331,0.84],[334,0.86],[337,0.8],[340,0.74],[344,0.71],[348,0.72],[352,0.78],[355,0.82],[357,0.8],[360,0.87]];

const pywake13 = [[0,0.995],[115,0.995],[118,0.97],[121,0.88],[124,0.8],[126,0.77],[128,0.8],[131,0.92],[134,0.99],[140,0.995],[278,0.995],[282,1.0],[284,1.02],[286,1.0],[290,0.99],[294,0.98],[298,0.975],[301,0.96],[303,0.9],[305,0.8],[307,0.74],[308,0.72],[310,0.76],[312,0.86],[314,0.96],[317,0.99],[320,0.995],[360,0.995]];
const aenn13 = [[0,1.0],[116,1.0],[118,0.95],[121,0.86],[124,0.78],[126,0.75],[128,0.8],[131,0.92],[133,0.99],[136,1.0],[232,1.0],[233,0.99],[234,1.0],[280,1.0],[282,1.05],[284,0.97],[285,0.94],[287,1.01],[290,1.02],[293,0.98],[297,0.97],[300,0.96],[304,0.95],[306,0.92],[307,0.86],[308,0.83],[310,0.96],[312,0.95],[314,0.96],[316,0.98],[318,1.0],[360,1.0]];

const pywake15 = [[0,0.995],[100,0.995],[102,0.998],[120,0.995],[200,0.995],[360,0.995]];
const aenn15 = [[0,1.0],[10,0.998],[45,1.003],[52,1.0],[100,1.0],[110,1.005],[118,1.0],[210,1.0],[215,1.007],[225,1.003],[240,1.0],[255,1.005],[265,1.0],[300,1.0],[303,1.008],[306,1.0],[310,1.008],[314,1.0],[360,1.0]];

Chart.defaults.font.family = "'DejaVu Sans', sans-serif";
Chart.defaults.color = '#111';

// axes frame (top line or full box) around the plot area
const framePlugin = {
  id: 'frame',
  afterDraw(chart, args, opts) {
    const a = chart.chartArea, c = chart.ctx;
    c.save();
    c.lineWidth = opts.width;
    c.strokeStyle = opts.color;
    c.beginPath();
    if (opts.box) {
      c.rect(a.left, a.top, a.right - a.left, a.bottom - a.top);
    } else {
      c.moveTo(a.left, a.top);
      c.lineTo(a.right, a.top);
    }
    c.stroke();
    c.restore();
  }
};

const toXY = arr => arr.map(p => ({ x: p[0], y: p[1] }));

new Chart(document.getElementById('scatter'), {
  type: 'scatter',
  data: {
    datasets: [{
      data: toXY(scatterPairs),
      pointRadius: 3,
      pointBackgroundColor: '#000',
      pointBorderWidth: 0
    }]
  },
  options: {
    responsive: false,
    animation: false,
    events: [],
    layout: { padding: { top: 58, right: 68, left: 0, bottom: 0 } },
    plugins: {
      legend: { display: false },
      tooltip: { enabled: false },
      frame: { color: '#111', width: 2, box: true }
    },
    scales: {
      x: {
        type: 'linear', min: 0.0056, max: 1.0476,
        afterBuildTicks: s => { s.ticks = pywakeTicks.map(v => ({ value: v })); },
        afterFit: s => { s.height = 117; },
        ticks: { font: { size: 32 }, color: '#111', padding: 5, maxRotation: 0, autoSkip: false, callback: v => v.toFixed(1) },
        grid: { drawOnChartArea: false, tickLength: 10, color: '#111', lineWidth: 2 },
        border: { color: '#111', width: 2 },
        title: { display: true, text: 'PyWake results', font: { size: 32 }, color: '#111', padding: { top: 0, bottom: 21 } }
      },
      y: {
        type: 'linear', min: -0.051, max: 1.1445,
        afterBuildTicks: s => { s.ticks = surrogateTicks.map(v => ({ value: v })); },
        afterFit: s => { s.width = 147; },
        ticks: { font: { size: 32 }, color: '#111', padding: 25, autoSkip: false, callback: v => v.toFixed(1) },
        grid: { drawOnChartArea: false, tickLength: 10, color: '#111', lineWidth: 2 },
        border: { color: '#111', width: 2 },
        title: { display: true, text: 'Surrogate model predictions', font: { size: 32 }, color: '#111', padding: { top: 24, bottom: 0 } }
      }
    }
  },
  plugins: [framePlugin]
});

function drawSubplot(id, title, sim, aenn) {
  new Chart(document.getElementById(id), {
    type: 'line',
    data: {
      datasets: [
        { label: 'AENN surrogate model', data: toXY(aenn), borderColor: 'rgb(235,30,30)', borderWidth: 2.3, pointRadius: 0, tension: 0, fill: false },
        { label: 'PyWake simulation', data: toXY(sim), borderColor: '#111', borderWidth: 2.1, borderDash: [7, 5], pointRadius: 0, tension: 0, fill: false }
      ]
    },
    options: {
      responsive: false,
      animation: false,
      events: [],
      layout: { padding: { top: 0, right: 18, left: 0, bottom: 0 } },
      plugins: {
        legend: { display: false },
        tooltip: { enabled: false },
        title: { display: true, text: title, fullSize: false, font: { size: 20, weight: 'normal' }, color: '#111', padding: { top: 26, bottom: 0 } },
        frame: { color: '#8a8a8a', width: 2.5, box: false }
      },
      scales: {
        x: {
          type: 'linear', min: 0, max: 360,
          afterBuildTicks: s => { s.ticks = dirTicks.map(v => ({ value: v })); },
          afterFit: s => { s.height = 57; },
          ticks: { font: { size: 19 }, color: '#111', padding: 2, maxRotation: 0, autoSkip: false },
          grid: { drawOnChartArea: false, tickLength: 5, color: '#333', lineWidth: 1.5 },
          border: { color: '#888', width: 2.5 },
          title: { display: true, text: 'Wind direction [deg]', font: { size: 20 }, color: '#111', padding: { top: 0, bottom: 5 } }
        },
        y: {
          type: 'linear', min: 0, max: 1.05,
          afterBuildTicks: s => { s.ticks = powerTicks.map(v => ({ value: v })); },
          afterFit: s => { s.width = 153; },
          ticks: { font: { size: 19 }, color: '#111', padding: 11, autoSkip: false, callback: v => v.toFixed(1) },
          grid: { drawOnChartArea: false, tickLength: 5, color: '#333', lineWidth: 1.5 },
          border: { color: '#222', width: 2 },
          title: { display: true, text: 'Normalized power [-]', font: { size: 20 }, color: '#111', padding: { top: 76, bottom: 0 } }
        }
      }
    },
    plugins: [framePlugin]
  });
}

drawSubplot('u7', speedTitles[0], pywake7, aenn7);
drawSubplot('u9', speedTitles[1], pywake9, aenn9);
drawSubplot('u11', speedTitles[2], pywake11, aenn11);
drawSubplot('u13', speedTitles[3], pywake13, aenn13);
drawSubplot('u15', speedTitles[4], pywake15, aenn15);
</script>
</body>
</html>
